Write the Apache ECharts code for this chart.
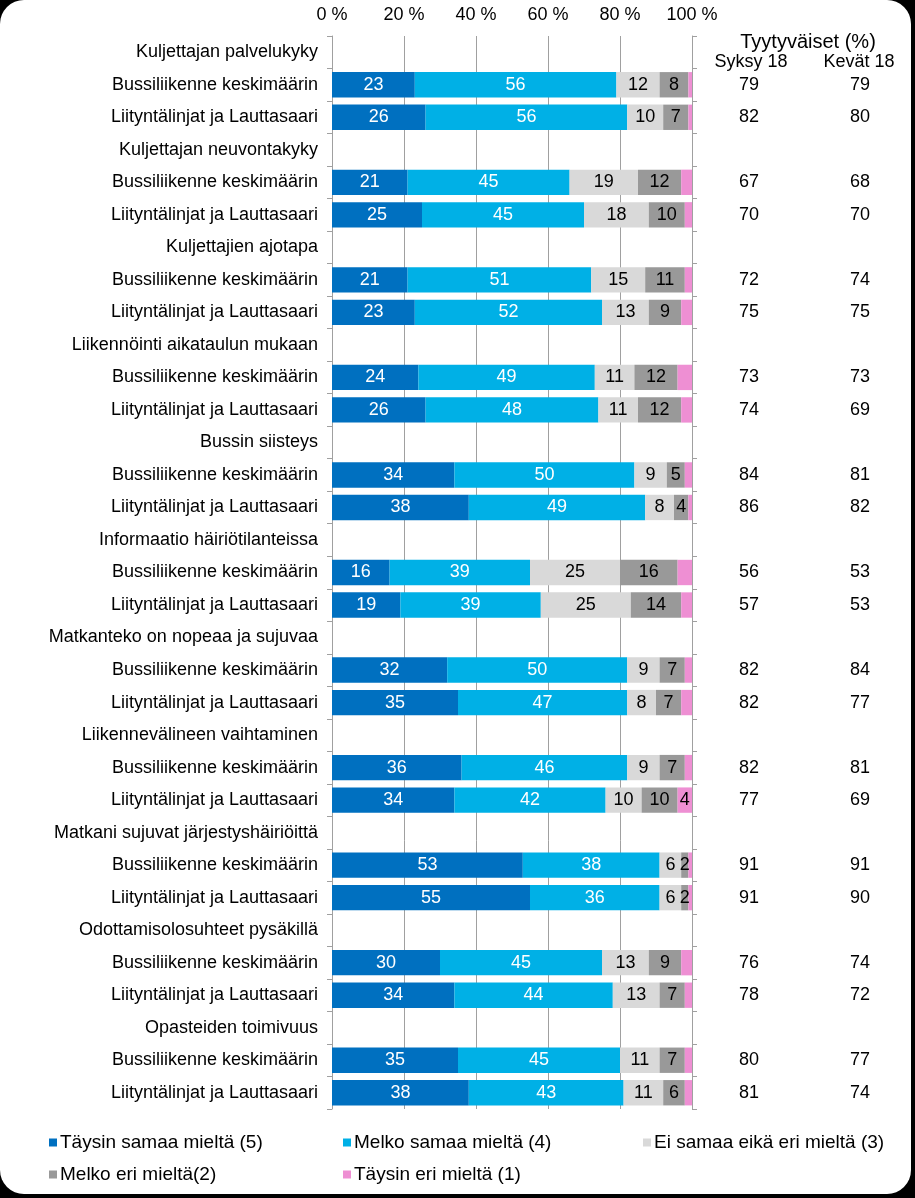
<!DOCTYPE html>
<html>
<head>
<meta charset="utf-8">
<script src="https://cdn.jsdelivr.net/npm/echarts@6/dist/echarts.min.js"></script>
<style>
  html, body { margin: 0; padding: 0; background: #000; }
  #frame { position: absolute; left: 0; top: 0; width: 911px; height: 1194px; background: #fff; border-radius: 24px; }
  #chart { position: absolute; left: 0; top: 0; width: 915px; height: 1198px; }
</style>
</head>
<body>
<div id="frame"></div>
<div id="chart"></div>
<script>
// ---- data ----
const groups = ['Kuljettajan palvelukyky', 'Kuljettajan neuvontakyky', 'Kuljettajien ajotapa',
  'Liikennöinti aikataulun mukaan', 'Bussin siisteys', 'Informaatio häiriötilanteissa',
  'Matkanteko on nopeaa ja sujuvaa', 'Liikennevälineen vaihtaminen',
  'Matkani sujuvat järjestyshäiriöittä', 'Odottamisolosuhteet pysäkillä', 'Opasteiden toimivuus'];
const subRows = ['Bussiliikenne keskimäärin', 'Liityntälinjat ja Lauttasaari'];
const seriesNames = ['Täysin samaa mieltä (5)', 'Melko samaa mieltä (4)', 'Ei samaa eikä eri mieltä (3)', 'Melko eri mieltä(2)', 'Täysin eri mieltä (1)'];
const taysinSamaa = [23,26,21,25,21,23,24,26,34,38,16,19,32,35,36,34,53,55,30,34,35,38];
const melkoSamaa  = [56,56,45,45,51,52,49,48,50,49,39,39,50,47,46,42,38,36,45,44,45,43];
const eiSamaaEiEri = [12,10,19,18,15,13,11,11,9,8,25,25,9,8,9,10,6,6,13,13,11,11];
const melkoEri    = [8,7,12,10,11,9,12,12,5,4,16,14,7,7,7,10,2,2,9,7,7,6];
const taysinEri   = [1,1,3,2,2,3,4,3,2,1,4,3,2,3,2,4,1,1,3,2,2,2];
const taysinEriLabelled = [15];   // only this pink segment carries a label
const syksy18 = [79,82,67,70,72,75,73,74,84,86,56,57,82,82,82,77,91,91,76,78,80,81];
const kevat18 = [79,80,68,70,74,75,73,69,81,82,53,53,84,77,81,69,91,90,74,72,77,74];
const xTicks = [0, 20, 40, 60, 80, 100];

// ---- build rows ----
const categories = [];
const rowDataIdx = [];   // -1 for header rows
groups.forEach((g, gi) => {
  categories.push(g); rowDataIdx.push(-1);
  subRows.forEach((s, si) => { categories.push(s); rowDataIdx.push(gi * 2 + si); });
});
const rowIndexCats = categories.map((c, i) => String(i));

function buildData(arr, labelRule) {
  return rowDataIdx.map(di => {
    if (di < 0) return '-';
    const item = { value: arr[di] };
    if (labelRule) item.label = { show: labelRule(di) };
    return item;
  });
}

const colors = ['#0070C0', '#00B0E6', '#D9D9D9', '#999999', '#EE8FD3'];
const labelColors = ['#fff', '#fff', '#000', '#000', '#000'];
const arrays = [taysinSamaa, melkoSamaa, eiSamaaEiEri, melkoEri, taysinEri];
const FONT = '"Liberation Sans", Arial, sans-serif';
const FS = 18;

const series = arrays.map((arr, i) => ({
  name: seriesNames[i],
  type: 'bar',
  stack: 'total',
  barCategoryGap: '22%',
  itemStyle: { color: colors[i] },
  label: { show: true, position: 'inside', color: labelColors[i], fontSize: FS, fontFamily: FONT },
  emphasis: { disabled: true },
  data: buildData(arr, i === 4 ? (di => taysinEriLabelled.indexOf(di) >= 0) : null)
}));

const legendPos = [
  { left: 44, top: 1128 }, { left: 338, top: 1128 }, { left: 638, top: 1128 },
  { left: 44, top: 1160 }, { left: 338, top: 1160 }
];
const legends = seriesNames.map((n, i) => ({
  data: [n], left: legendPos[i].left, top: legendPos[i].top,
  icon: 'rect', itemWidth: 8, itemHeight: 8, itemGap: 0,
  textStyle: { fontSize: 19, color: '#000', fontFamily: FONT, padding: [0, 0, 0, -2] },
  selectedMode: false
}));

const axisGray = '#A0A0A0';
const option = {
  animation: false,
  textStyle: { fontFamily: FONT },
  grid: { left: 332, right: 223, top: 36, bottom: 89 },
  legend: legends,
  xAxis: {
    type: 'value', position: 'top', min: 0, max: 100, interval: 20,
    axisLabel: { formatter: v => xTicks.indexOf(v) >= 0 ? v + ' %' : '', fontSize: FS, color: '#000', margin: 12, fontFamily: FONT },
    axisLine: { show: false }, axisTick: { show: false },
    splitLine: { show: true, lineStyle: { color: axisGray, width: 1 } }
  },
  yAxis: [
    {
      type: 'category', inverse: true, data: categories,
      axisLine: { show: true, onZero: false, lineStyle: { color: axisGray } },
      axisTick: { show: true, length: 5, lineStyle: { color: axisGray } },
      axisLabel: { fontSize: FS, color: '#000', margin: 14, fontFamily: FONT, interval: 0 }
    },
    {
      type: 'category', inverse: true, position: 'right', data: rowIndexCats,
      axisLine: { show: true, onZero: false, lineStyle: { color: axisGray } },
      axisTick: { show: true, length: 5, lineStyle: { color: axisGray } },
      axisLabel: { fontSize: FS, color: '#000', margin: 57, align: 'center', interval: 0, fontFamily: FONT,
        formatter: (v, idx) => rowDataIdx[idx] >= 0 ? String(syksy18[rowDataIdx[idx]]) : '' }
    },
    {
      type: 'category', inverse: true, position: 'right', data: rowIndexCats,
      axisLine: { show: false, onZero: false }, axisTick: { show: false },
      axisLabel: { fontSize: FS, color: '#000', margin: 168, align: 'center', interval: 0, fontFamily: FONT,
        formatter: (v, idx) => rowDataIdx[idx] >= 0 ? String(kevat18[rowDataIdx[idx]]) : '' }
    }
  ],
  graphic: [
    { type: 'text', x: 808, y: 42, style: { text: 'Tyytyväiset (%)', fill: '#000', font: '20px ' + FONT, align: 'center', verticalAlign: 'middle', textAlign: 'center', textVerticalAlign: 'middle' } },
    { type: 'text', x: 751, y: 62, style: { text: 'Syksy 18', fill: '#000', font: FS + 'px ' + FONT, align: 'center', verticalAlign: 'middle', textAlign: 'center', textVerticalAlign: 'middle' } },
    { type: 'text', x: 859, y: 62, style: { text: 'Kevät 18', fill: '#000', font: FS + 'px ' + FONT, align: 'center', verticalAlign: 'middle', textAlign: 'center', textVerticalAlign: 'middle' } }
  ],
  series: series
};

const chart = echarts.init(document.getElementById('chart'), null, { renderer: 'canvas' });
chart.setOption(option);
</script>
</body>
</html>
